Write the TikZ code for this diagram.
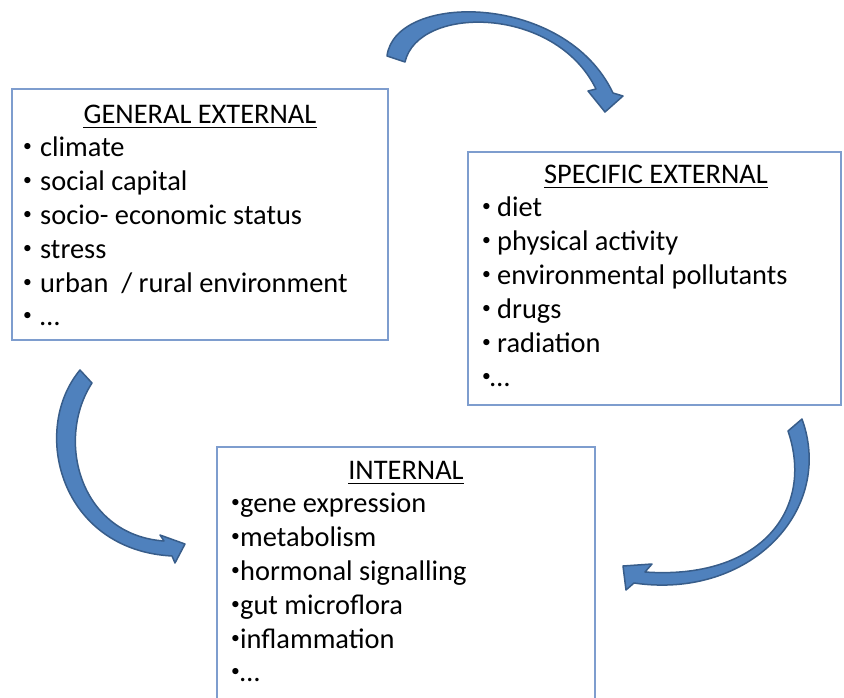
\documentclass[tikz,border=0pt]{standalone}
\usepackage{fontspec}
\setmainfont{Carlito}

\definecolor{boxline}{RGB}{126,157,206}
\definecolor{arrowfill}{RGB}{79,129,189}
\definecolor{arrowline}{RGB}{56,93,138}

\newcommand{\smallbullet}{\raisebox{0.17em}{\scalebox{0.62}{•}}}

\tikzset{
  box/.style={draw=boxline,line width=1.2pt,inner sep=0pt},
  head/.style={inner sep=0pt,anchor=base,font=\fontsize{28.4}{34}\selectfont},
  item/.style={inner sep=0pt,anchor=base west,font=\fontsize{28.4}{34}\selectfont},
  blockarrow/.style={fill=arrowfill,draw=arrowline,line width=1.5pt,line join=round}
}

\begin{document}
\begin{tikzpicture}[x=1pt,y=-1pt]

\useasboundingbox (0,0) rectangle (844,697);

\node[box,minimum width=376pt,minimum height=251pt] (general) at (200,214.5) {};
\node[box,minimum width=373pt,minimum height=253pt] (specific) at (654.5,278.5) {};
\node[box,minimum width=378pt,minimum height=263pt] (internal) at (406,578.5) {};

\node[head] (generalhead) at (200,123) {GENERAL EXTERNAL};
\node[head] (specifichead) at (656,183) {SPECIFIC EXTERNAL};
\node[head] (internalhead) at (406,479) {INTERNAL};

\draw[line width=1.5pt] ([yshift=-4.5pt]generalhead.base west)--([yshift=-4.5pt]generalhead.base east);
\draw[line width=1.5pt] ([yshift=-4.5pt]specifichead.base west)--([yshift=-4.5pt]specifichead.base east);
\draw[line width=1.5pt] ([yshift=-4.5pt]internalhead.base west)--([yshift=-4.5pt]internalhead.base east);

\foreach \t [count=\i] in {climate,social capital,socio- economic status,stress,urban~ / rural environment,…}
  \node[item] (general\i) at (23,123+33.8*\i) {\makebox[17pt][l]{\smallbullet}\t};

\foreach \t [count=\i] in {diet,physical activity,environmental pollutants,drugs,radiation}
  \node[item] (specific\i) at (482,183+33.8*\i) {\makebox[15pt][l]{\smallbullet}\t};
\node[item] (specific6) at (482,386) {\makebox[8pt][l]{\smallbullet}…};

\foreach \t [count=\i] in {gene expression,metabolism,hormonal signalling,gut microflora,inflammation,…}
  \node[item] (internal\i) at (231,479+33.8*\i) {\makebox[9pt][l]{\smallbullet}\t};

\draw[blockarrow] (387,56) .. controls (395,-8) and (565,-8) .. (613,93)
  --(623,96)--(605,112)--(588,91)--(596,89)
  .. controls (555,5) and (418,5) .. (405,62)--cycle;

\draw[blockarrow] (802,419) .. controls (835,510) and (750,600) .. (634,583)
  --(626,590)--(623,566)--(652,564)--(645,572)
  .. controls (760,580) and (815,510) .. (788,431)--cycle;

\draw[blockarrow] (80,370) .. controls (30,430) and (60,550) .. (172,556)
  --(175,563)--(185,544)--(160,535)--(164,541)
  .. controls (80,535) and (55,440) .. (92,383)--cycle;

\end{tikzpicture}
\end{document}
